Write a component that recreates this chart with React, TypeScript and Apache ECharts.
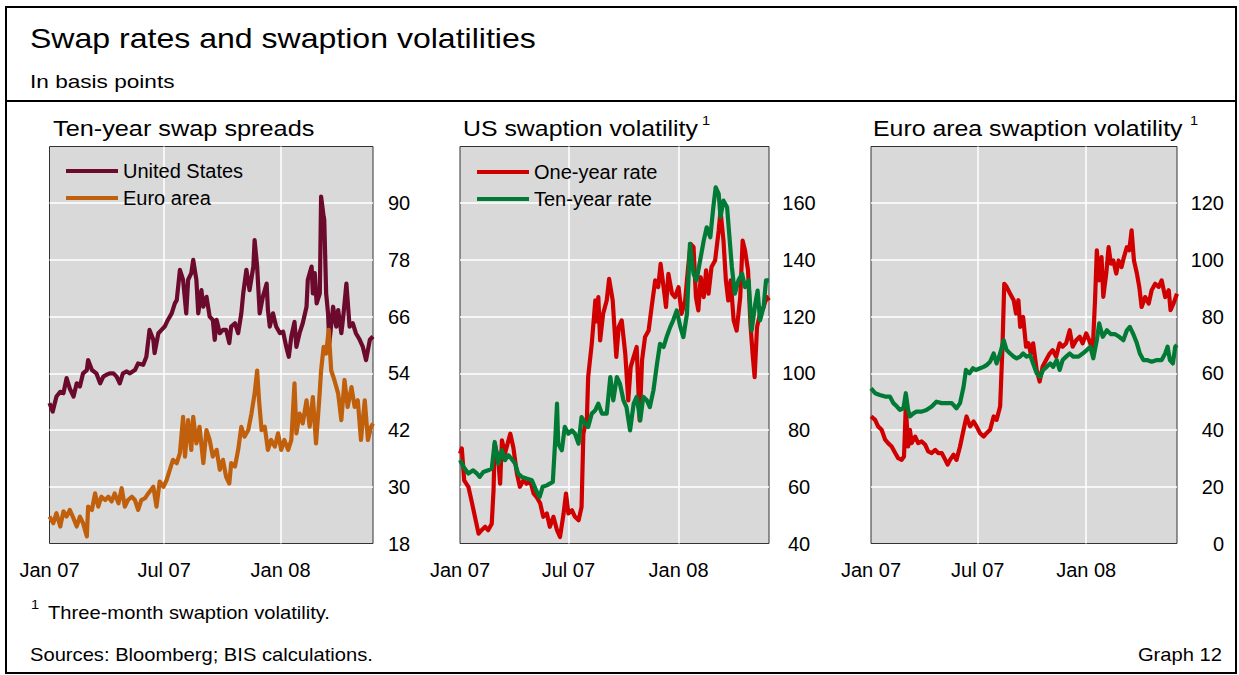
import React, { useEffect, useRef } from "react";
import * as echarts from "echarts";

// x positions are days counted from 1 Jan 2007
const tickDays = [0, 181, 365];
const tickLabels = ["Jan 07", "Jul 07", "Jan 08"];

const spreadTicks = [18, 30, 42, 54, 66, 78, 90];
const usVolTicks = [40, 60, 80, 100, 120, 140, 160];
const euVolTicks = [0, 20, 40, 60, 80, 100, 120];

const usSpreadDays = [0,5,11,17,22,27,32,38,43,48,53,59,61,67,74,80,85,90,95,101,106,111,116,122,127,135,140,148,153,158,164,166,172,177,182,187,193,198,201,206,211,216,219,224,227,232,235,240,243,248,253,258,261,264,269,274,279,284,287,293,298,303,306,311,316,322,324,328,332,337,343,345,348,353,358,364,369,374,378,382,387,390,395,400,406,408,414,416,419,422,427,429,433,434,437,440,442,448,453,456,461,464,469,474,479,484,490,495,500,506,511];
const usSpreadValues = [47.7,45.9,49.1,50.1,49.8,53.0,50.8,49.1,51.9,51.2,54.0,54.7,56.8,54.7,54.0,51.9,53.3,53.7,54.0,54.0,53.3,51.9,54.0,54.4,54.0,54.7,56.1,55.8,57.5,63.2,61.1,58.3,62.5,63.2,63.9,65.3,66.7,68.8,69.5,75.9,73.8,66.7,73.8,75.2,78.0,73.8,66.7,71.6,68.1,70.2,66.0,65.3,61.1,65.3,62.5,63.2,63.2,60.4,63.9,64.6,62.5,66.7,70.9,75.9,71.6,76.6,82.2,76.6,66.7,70.2,73.0,67.4,63.9,66.7,63.9,62.5,62.8,59.6,57.5,61.8,64.9,59.6,62.5,64.6,68.1,73.8,76.6,70.9,75.2,68.8,70.9,91.4,87.2,86.5,70.9,66.7,60.4,68.1,63.9,67.4,62.5,66.0,73.0,63.9,64.6,62.5,61.1,59.6,56.8,61.1,61.8];

const euSpreadDays = [0,6,11,17,22,27,32,38,43,48,53,59,61,67,72,77,82,88,93,98,103,109,114,119,124,130,135,140,145,151,156,164,169,174,180,185,190,195,201,206,211,214,219,224,227,232,237,243,248,253,258,264,269,274,279,284,287,293,298,303,308,314,319,324,328,331,335,340,345,350,356,361,366,371,377,382,387,390,395,400,406,411,416,421,426,429,433,437,441,445,450,456,461,466,471,477,482,487,492,498,503,508,511];
const euSpreadValues = [23.7,22.3,24.4,21.6,24.8,23.7,25.1,23.3,21.6,23.7,22.3,19.5,25.8,25.1,28.6,25.8,27.9,27.2,27.9,26.9,28.6,26.5,29.7,25.8,27.2,27.9,27.2,25.1,27.2,27.6,28.6,30.0,25.8,31.1,30.0,31.4,33.6,35.7,35.0,37.1,44.8,36.4,44.1,37.8,44.8,39.2,42.7,35.0,42.0,39.9,36.4,37.8,33.6,35.7,32.1,30.7,35.0,34.3,37.8,42.7,40.6,42.0,45.5,49.7,54.6,48.3,42.0,42.7,37.8,39.9,38.5,41.3,37.8,39.9,37.8,39.9,51.9,41.3,45.5,43.4,48.3,42.7,49.0,39.2,48.3,54.6,59.6,58.2,63.2,54.6,52.6,49.7,44.1,52.6,46.9,51.1,46.9,48.3,39.9,48.3,39.9,42.7,43.4];

const usOneDays = [0,3,7,14,19,25,31,36,42,47,53,56,58,64,67,70,75,81,84,89,95,100,106,111,117,123,128,134,139,145,150,156,162,167,173,177,181,187,192,198,203,206,212,214,220,226,228,231,234,239,245,249,255,261,265,270,276,281,285,290,295,300,304,309,315,320,326,331,335,340,344,348,354,359,365,370,376,381,385,390,394,398,402,407,411,415,420,426,432,435,440,444,448,452,457,462,468,472,476,481,485,489,492,496,501,507,512,516];
const usOneValues = [71.7,73.5,62.3,60.0,55.3,49.4,43.5,44.7,45.9,44.7,47.0,58.8,75.2,69.4,61.1,76.4,71.7,76.4,78.7,74.0,64.7,60.0,62.3,61.1,62.3,57.6,56.4,54.1,49.4,50.6,45.9,49.4,44.7,42.3,50.6,57.6,50.6,51.7,49.4,48.2,52.9,78.7,84.6,98.7,110.4,125.7,118.3,126.9,111.6,121.0,125.7,133.3,125.7,105.8,116.3,118.7,106.9,90.5,102.2,105.8,109.3,83.4,104.6,112.8,115.1,123.4,132.8,130.4,138.6,130.4,123.4,135.1,128.1,126.9,130.4,121.0,125.7,137.5,145.7,144.5,126.9,122.2,133.9,126.9,136.3,128.1,137.5,139.8,150.4,157.4,146.8,132.8,125.7,132.8,118.7,115.1,126.9,146.8,143.3,136.3,117.5,105.8,98.7,116.3,121.0,123.4,126.9,125.7];

const usTenDays = [0,6,14,22,28,33,39,47,53,58,64,70,75,81,86,92,97,103,111,120,127,133,138,145,150,155,159,162,164,170,175,181,187,192,198,203,209,214,220,226,231,237,245,251,256,262,267,273,278,284,290,295,301,306,312,317,323,329,334,340,345,351,356,362,368,373,379,384,390,395,401,407,412,418,423,427,432,435,440,446,450,454,459,465,471,476,482,487,493,497,501,507,511,516];
const usTenValues = [69.4,67.0,64.7,65.8,64.7,63.5,65.2,65.8,66.4,75.8,68.2,72.9,69.4,71.1,69.9,68.2,64.7,63.5,62.9,62.3,58.8,56.4,60.0,60.5,61.1,61.7,76.4,89.3,75.2,72.9,81.1,78.7,79.9,78.7,75.2,84.6,82.3,81.1,85.8,87.0,89.3,85.8,85.8,98.7,90.5,98.7,96.4,90.5,88.1,79.9,89.3,91.7,83.4,91.7,90.5,88.1,94.0,103.4,110.4,109.3,112.8,116.3,118.7,122.2,116.3,112.8,121.0,145.7,135.1,132.8,139.8,146.8,151.5,148.0,158.6,165.6,163.3,155.1,160.9,158.6,148.0,137.5,128.1,132.8,135.1,130.4,132.8,115.1,124.5,129.2,118.7,123.4,132.8,132.8];

const euOneDays = [0,7,12,18,24,29,35,41,46,52,56,59,63,66,69,75,80,86,92,97,103,109,114,120,126,130,134,140,145,151,157,162,168,174,179,185,191,196,202,208,213,219,223,226,230,236,242,246,250,253,258,263,267,271,275,281,286,291,297,303,308,314,320,325,331,337,342,348,354,359,365,370,376,380,383,387,391,394,399,403,407,411,416,420,425,429,434,438,442,446,451,455,459,465,471,476,482,488,493,499,505,508,513,519];
const euOneValues = [44.8,43.6,41.3,40.1,36.6,35.4,34.2,31.9,30.1,29.5,30.7,48.3,34.2,40.1,35.4,37.7,35.4,36.0,34.8,32.5,31.9,33.0,31.9,31.9,29.5,27.8,29.5,31.3,29.5,34.2,40.1,44.8,41.3,43.0,41.3,38.9,37.7,38.9,40.1,44.8,43.6,48.3,69.4,91.6,90.5,88.1,85.8,81.1,85.8,76.4,79.9,69.4,70.6,67.0,70.6,61.2,57.1,62.3,64.7,67.0,68.2,65.9,70.6,69.4,70.6,75.2,69.4,71.7,72.9,70.6,74.1,71.7,68.2,85.8,103.4,92.8,101.0,87.0,95.2,104.5,98.7,99.8,95.2,99.8,97.5,101.0,104.5,103.4,110.4,99.8,95.2,90.5,83.4,86.9,84.6,89.3,91.6,90.5,92.8,86.9,89.3,82.3,84.6,88.1];

const euTenDays = [0,7,15,24,32,38,44,49,55,59,63,66,72,77,86,94,103,111,120,128,137,145,151,157,161,167,173,178,185,191,196,202,208,213,219,225,230,236,242,247,253,258,264,270,275,281,287,292,298,304,309,315,320,325,331,337,343,352,359,366,372,377,383,387,393,400,407,414,421,428,434,439,445,451,456,462,468,476,485,493,499,503,507,512,516,519];
const euTenValues = [54.7,53.0,52.4,51.8,51.8,49.5,48.3,47.1,47.7,53.0,47.1,44.8,45.9,46.5,46.5,47.1,48.3,50.0,49.5,49.5,49.5,47.7,49.5,55.3,61.2,60.0,61.8,61.2,61.8,62.3,62.9,64.1,67.0,63.5,67.0,71.7,68.2,67.0,65.9,65.3,65.9,67.0,65.9,66.4,63.5,60.0,58.8,61.2,62.3,63.5,62.3,64.7,61.2,64.7,65.9,67.0,65.9,65.9,67.0,68.2,69.4,65.3,71.7,77.6,72.9,75.2,73.8,73.8,72.9,71.7,75.2,76.4,73.8,70.6,67.0,64.7,64.7,64.1,64.7,64.7,67.0,69.4,64.7,63.5,69.4,70.0];

const FONT = "'Liberation Sans', Arial, Helvetica, sans-serif";
const SX = 1.12;
const COLORS = {
  us: "#6b0a2c",
  eu: "#c0600c",
  one: "#d10000",
  ten: "#007a34",
};

function pairs(days: number[], values: number[]) {
  const n = Math.min(days.length, values.length);
  const out: number[][] = [];
  for (let i = 0; i < n; i++) out.push([days[i], values[i]]);
  return out;
}

function txt(x: number, y: number, text: string, size: number, align = "left", scale = SX) {
  return {
    type: "text",
    x,
    y,
    scaleX: scale,
    silent: true,
    style: {
      text,
      fontSize: size,
      fontFamily: FONT,
      fill: "#000",
      textAlign: align,
      textVerticalAlign: "middle",
      align,
      verticalAlign: "middle",
    },
  };
}

export default function App() {
  const ref = useRef<HTMLDivElement>(null);

  useEffect(() => {
    if (!ref.current) return;
    const chart = echarts.init(ref.current, null, { renderer: "svg" });

    const top = 146.5;
    const height = 397;
    const grids = [
      { left: 49.5, top, width: 323.5, height },
      { left: 460, top, width: 309, height },
      { left: 871, top, width: 306, height },
    ].map((g) => ({
      ...g,
      show: true,
      backgroundColor: "#d9d9d9",
      borderColor: "#333",
      borderWidth: 1,
    }));

    const xMax = [511, 516, 519];
    const xAxis = xMax.map((mx, i) => ({
      type: "value",
      gridIndex: i,
      min: 0,
      max: mx,
      axisLine: { show: false },
      axisTick: { show: false, customValues: tickDays.slice(1) },
      splitLine: { show: true, lineStyle: { color: "#ffffff", width: 1.5 } },
      axisLabel: {
        customValues: tickDays,
        formatter: (v: number) => tickLabels[tickDays.indexOf(Math.round(v))] ?? "",
        fontFamily: FONT,
        fontSize: 20,
        color: "#000",
        margin: 16,
      },
    }));

    const yDefs = [
      { ticks: spreadTicks, min: 18, max: 102, align: "center", margin: 26 },
      { ticks: usVolTicks, min: 40, max: 180, align: "center", margin: 30 },
      { ticks: euVolTicks, min: 0, max: 140, align: "right", margin: 47 },
    ];
    const yAxis = yDefs.map((d, i) => ({
      type: "value",
      gridIndex: i,
      position: "right",
      min: d.min,
      max: d.max,
      axisLine: { show: false },
      axisTick: { show: false, customValues: d.ticks.slice(1) },
      splitLine: { show: true, lineStyle: { color: "#ffffff", width: 1.5 } },
      axisLabel: {
        customValues: d.ticks,
        fontFamily: FONT,
        fontSize: 20,
        color: "#000",
        align: d.align,
        margin: d.margin,
      },
    }));

    const line = (name: string, idx: number, data: number[][], color: string) => ({
      type: "line",
      name,
      xAxisIndex: idx,
      yAxisIndex: idx,
      data,
      showSymbol: false,
      symbol: "none",
      lineStyle: { color, width: 4.2, join: "round" },
      itemStyle: { color },
      emphasis: { disabled: true },
    });

    const series = [
      line("United States", 0, pairs(usSpreadDays, usSpreadValues), COLORS.us),
      line("Euro area", 0, pairs(euSpreadDays, euSpreadValues), COLORS.eu),
      line("One-year rate", 1, pairs(usOneDays, usOneValues), COLORS.one),
      line("Ten-year rate", 1, pairs(usTenDays, usTenValues), COLORS.ten),
      line("One-year rate", 2, pairs(euOneDays, euOneValues), COLORS.one),
      line("Ten-year rate", 2, pairs(euTenDays, euTenValues), COLORS.ten),
    ];

    const legendBase = {
      orient: "vertical",
      icon: "rect",
      itemWidth: 52,
      itemHeight: 4,
      itemGap: 7,
      padding: 0,
      selectedMode: false,
      textStyle: { fontFamily: FONT, fontSize: 20, color: "#000", lineHeight: 20 },
    };

    chart.setOption({
      animation: false,
      backgroundColor: "#ffffff",
      grid: grids,
      xAxis,
      yAxis,
      series,
      legend: [
        { ...legendBase, left: 66, top: 161, data: ["United States", "Euro area"] },
        { ...legendBase, left: 477, top: 162, data: ["One-year rate", "Ten-year rate"] },
      ],
      graphic: [
        {
          type: "rect",
          silent: true,
          shape: { x: 6, y: 7, width: 1230, height: 666 },
          style: { fill: "none", stroke: "#000", lineWidth: 2 },
        },
        {
          type: "line",
          silent: true,
          shape: { x1: 6, y1: 101, x2: 1236, y2: 101 },
          style: { stroke: "#000", lineWidth: 2 },
        },
        txt(30, 38, "Swap rates and swaption volatilities", 28, "left", 1.145),
        txt(30, 81, "In basis points", 19, "left", 1.19),
        txt(53, 129, "Ten-year swap spreads", 22, "left", 1.15),
        txt(463, 129, "US swaption volatility", 22, "left", 1.13),
        txt(702, 121, "1", 13),
        txt(873, 129, "Euro area swaption volatility", 22, "left", 1.13),
        txt(1190, 121, "1", 13),
        txt(31, 605, "1", 13),
        txt(48, 613, "Three-month swaption volatility.", 18),
        txt(30, 655, "Sources: Bloomberg; BIS calculations.", 18),
        txt(1222, 655, "Graph 12", 18, "right"),
      ],
    });

    return () => chart.dispose();
  }, []);

  return (
    <div
      ref={ref}
      style={{ position: "absolute", left: 0, top: 0, width: 1239, height: 675 }}
    />
  );
}
